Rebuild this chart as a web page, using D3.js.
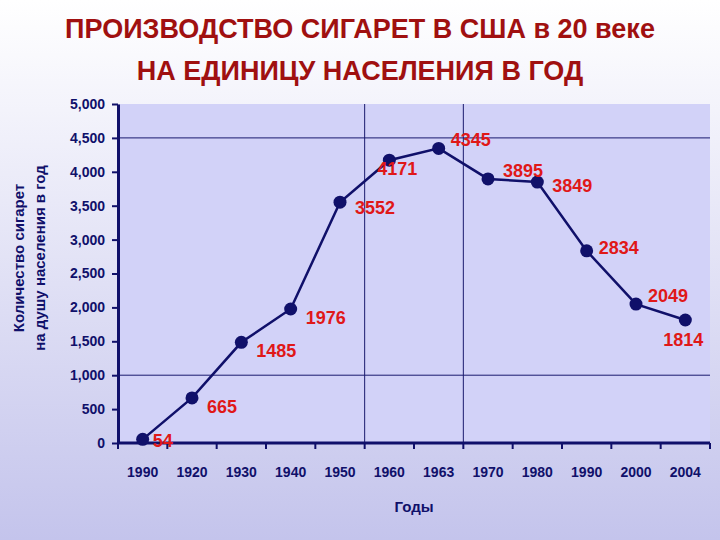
<!DOCTYPE html>
<html><head><meta charset="utf-8">
<script src="https://cdn.jsdelivr.net/npm/d3@7"></script>
<style>body{margin:0}</style>
</head><body>
<svg id="chart" width="720" height="540"></svg>
<script>
const years = ['1990','1920','1930','1940','1950','1960','1963','1970','1980','1990','2000','2004']
const values = [54,665,1485,1976,3552,4171,4345,3895,3849,2834,2049,1814]
const yTicks = [0,500,1000,1500,2000,2500,3000,3500,4000,4500,5000]
// label offsets [dx, dy] per point
const labelPos = [[10,8],[15,15],[15,15],[15,15],[15,12],[-12,15],[12,-2],[15,-2],[15,10],[12,3],[12,-2],[-22,26]]

const svg = d3.select('#chart')
const defs = svg.append('defs')
const g1 = defs.append('linearGradient').attr('id','bg').attr('x1',0).attr('y1',0).attr('x2',0).attr('y2',1)
g1.append('stop').attr('offset','0%').attr('stop-color','#ffffff')
g1.append('stop').attr('offset','100%').attr('stop-color','#c4c4ec')
svg.append('rect').attr('width',720).attr('height',540).attr('fill','url(#bg)')

const pLeft = 118, pRight = 710, pTop = 104, pBottom = 443
const x = d3.scaleBand().domain(d3.range(years.length)).range([pLeft,pRight])
const y = d3.scaleLinear().domain([0,5000]).range([pBottom,pTop])
const cx = i => x(i) + x.bandwidth()/2

svg.append('rect').attr('x',pLeft).attr('y',pTop).attr('width',pRight-pLeft).attr('height',pBottom-pTop)
    .attr('fill','#d2d2f8')

svg.selectAll('.hg').data([1000,4500]).enter().append('line')
    .attr('x1',pLeft).attr('x2',pRight).attr('y1',d=>y(d)).attr('y2',d=>y(d))
    .attr('stroke','#1a1a6e').attr('stroke-width',1)
svg.selectAll('.vg').data([5,7]).enter().append('line')
    .attr('x1',d=>x(d)).attr('x2',d=>x(d)).attr('y1',pTop).attr('y2',pBottom)
    .attr('stroke','#1a1a6e').attr('stroke-width',1)

const yAxis = svg.append('g').attr('transform',`translate(${pLeft},0)`)
    .call(d3.axisLeft(y).tickValues(yTicks).tickSize(6).tickSizeOuter(0))
yAxis.select('.domain').attr('stroke','#10106a').attr('stroke-width',3)
yAxis.selectAll('line').attr('stroke','#10106a').attr('stroke-width',2)
yAxis.selectAll('text').attr('font-family','Liberation Sans, Arial').attr('font-weight','bold')
    .attr('font-size',14).attr('fill','#10106a').attr('dx',-4)

const xb = d3.range(years.length+1).map(i => i < years.length ? x(i) : pRight)
svg.append('line').attr('x1',pLeft).attr('x2',pRight).attr('y1',pBottom).attr('y2',pBottom)
    .attr('stroke','#10106a').attr('stroke-width',3)
svg.selectAll('.xt').data(xb).enter().append('line')
    .attr('x1',d=>d).attr('x2',d=>d).attr('y1',pBottom).attr('y2',pBottom+6)
    .attr('stroke','#10106a').attr('stroke-width',2)
svg.selectAll('.xl').data(years).enter().append('text')
    .attr('x',(d,i)=>cx(i)).attr('y',477).attr('text-anchor','middle')
    .attr('font-family','Liberation Sans, Arial').attr('font-weight','bold')
    .attr('font-size',14).attr('fill','#10106a').text(d=>d)

const line = d3.line().x((d,i)=>cx(i)).y(d=>y(d))
svg.append('path').datum(values).attr('d',line).attr('fill','none')
    .attr('stroke','#10106a').attr('stroke-width',2.5)
svg.selectAll('.pt').data(values).enter().append('circle')
    .attr('cx',(d,i)=>cx(i)).attr('cy',d=>y(d)).attr('r',6.5).attr('fill','#10106a')
svg.selectAll('.lb').data(values).enter().append('text')
    .attr('x',(d,i)=>cx(i)+labelPos[i][0]).attr('y',(d,i)=>y(d)+labelPos[i][1])
    .attr('font-family','Liberation Sans, Arial').attr('font-weight','bold')
    .attr('font-size',18).attr('fill','#e01818').text(d=>d)

svg.append('text').attr('x',414).attr('y',512).attr('text-anchor','middle')
    .attr('font-family','Liberation Sans, Arial').attr('font-weight','bold')
    .attr('font-size',15).attr('fill','#10106a').text('Годы')
const yl = svg.append('text').attr('transform','translate(24,258) rotate(-90)')
    .attr('text-anchor','middle').attr('font-family','Liberation Sans, Arial')
    .attr('font-weight','bold').attr('font-size',15).attr('fill','#10106a')
yl.append('tspan').attr('x',0).attr('dy',0).text('Количество сигарет')
yl.append('tspan').attr('x',0).attr('dy',21).text('на душу населения в год')

svg.append('text').attr('x',360).attr('y',38).attr('text-anchor','middle')
    .attr('font-family','Liberation Sans, Arial').attr('font-weight','bold')
    .attr('font-size',27).attr('fill','#a01010').text('ПРОИЗВОДСТВО СИГАРЕТ В США в 20 веке')
svg.append('text').attr('x',360).attr('y',80).attr('text-anchor','middle')
    .attr('font-family','Liberation Sans, Arial').attr('font-weight','bold')
    .attr('font-size',27).attr('fill','#a01010').text('НА ЕДИНИЦУ НАСЕЛЕНИЯ В ГОД')
</script>
</body></html>
